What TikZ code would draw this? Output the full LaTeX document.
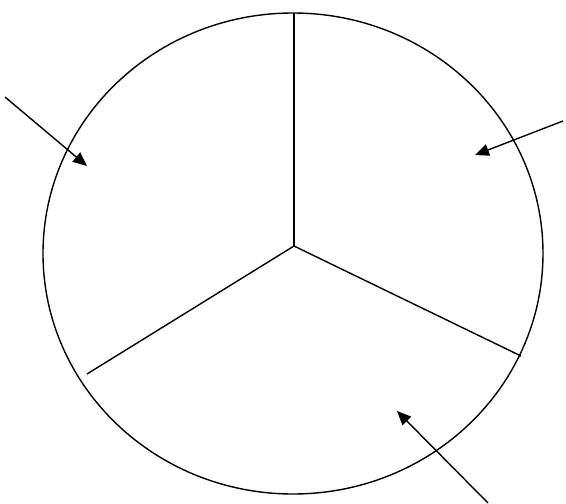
\documentclass[tikz,border=0pt]{standalone}
\usepackage{tikz}
\usetikzlibrary{arrows.meta}
\tikzset{
  rim/.style={draw=black, line width=1.4pt},
  spoke/.style={draw=black, line width=1.4pt},
  pointer/.style={-{Triangle[length=14pt, width=12pt]}, black, line width=1.4pt},
}

\begin{document}
\begin{tikzpicture}[x=1pt, y=-1pt]
    \useasboundingbox (0,0) rectangle (566,504);
    % outer ring and the three sectors
    \draw[rim] (293,253.5) ellipse [x radius=250, y radius=240.5];
    \coordinate (hub)   at (294,246);
    \coordinate (top)   at (294,13);
    \coordinate (right) at (521,356);
    \coordinate (left)  at (87,374);
    \draw[spoke] (hub) -- (top);
    \draw[spoke] (hub) -- (right);
    \draw[spoke] (hub) -- (left);
    % pointers into the sectors
    \coordinate (p1from) at (5,97);
    \coordinate (p1to)   at (87,166);
    \coordinate (p2from) at (563,121);
    \coordinate (p2to)   at (475,155);
    \coordinate (p3from) at (488,503);
    \coordinate (p3to)   at (397,411);
    \draw[pointer] (p1from) -- (p1to);
    \draw[pointer] (p2from) -- (p2to);
    \draw[pointer] (p3from) -- (p3to);
\end{tikzpicture}
\end{document}
